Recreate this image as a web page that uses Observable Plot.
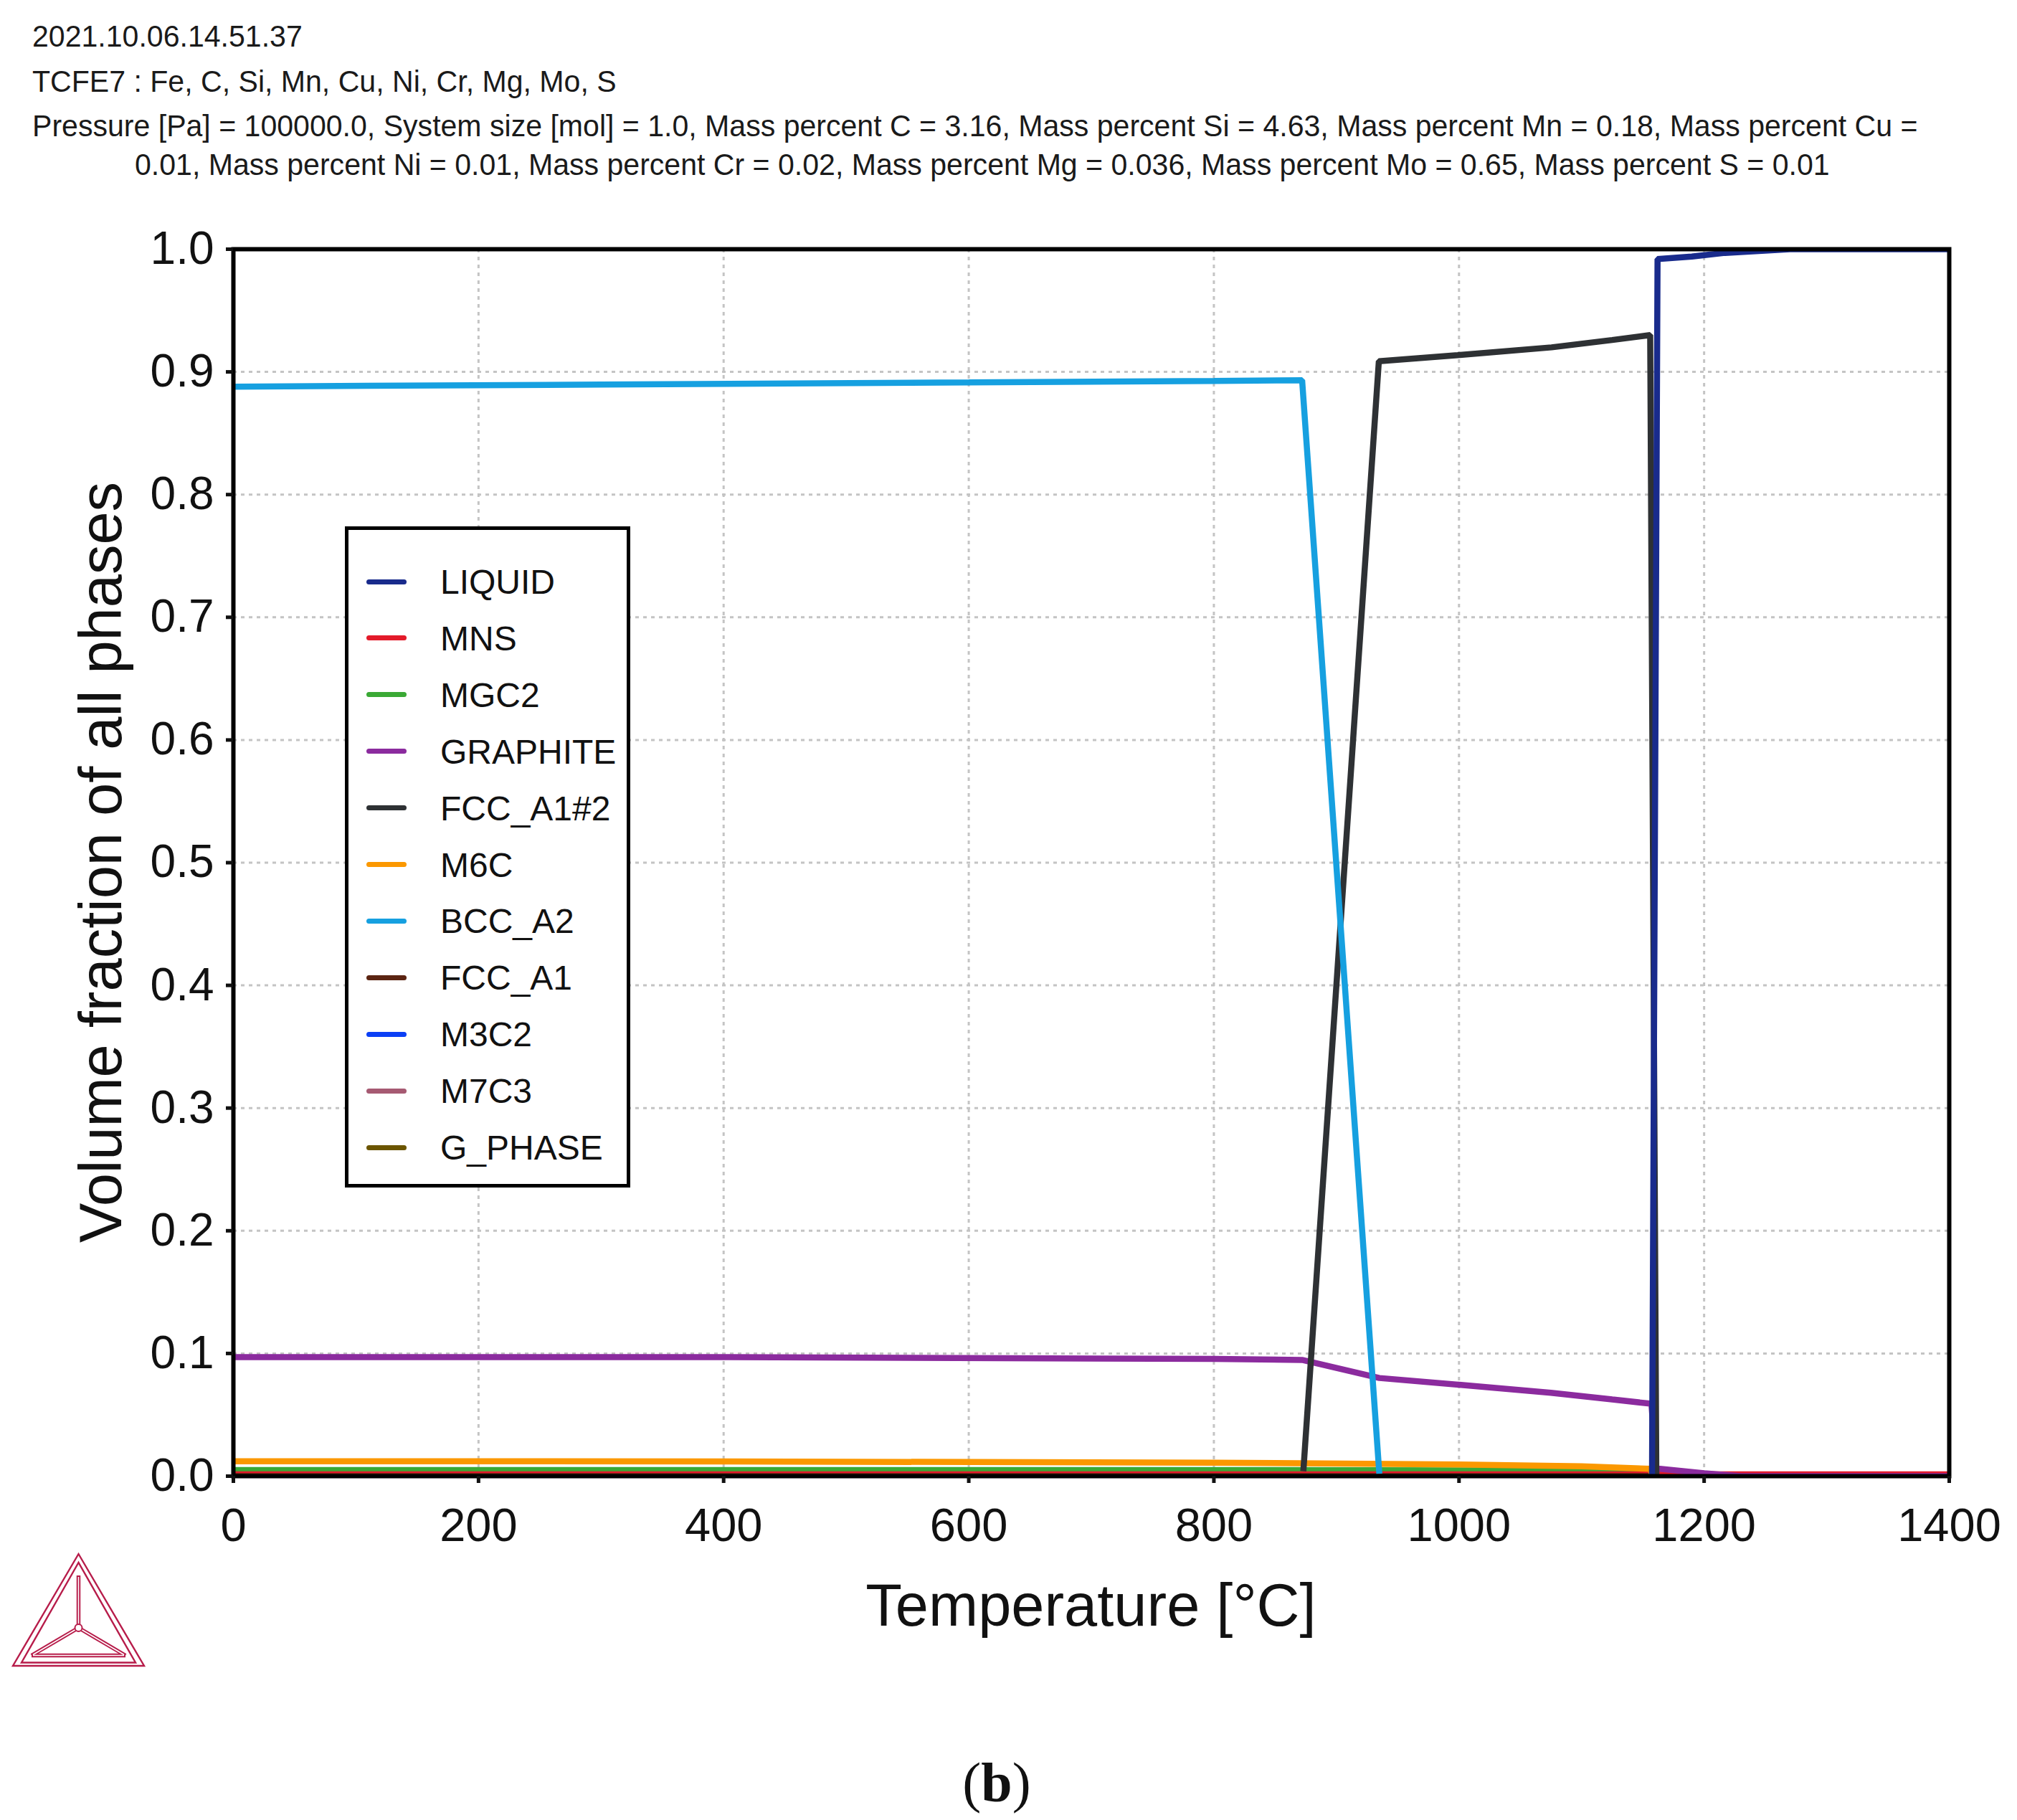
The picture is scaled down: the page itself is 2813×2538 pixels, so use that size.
<!DOCTYPE html>
<html>
<head>
<meta charset="utf-8">
<script src="https://cdn.jsdelivr.net/npm/d3@7"></script>
<script src="https://cdn.jsdelivr.net/npm/@observablehq/plot@0.6"></script>
<style>
  html, body { margin: 0; padding: 0; background: #fff; }
  #page { position: relative; width: 2813px; height: 2538px; overflow: hidden; background: #fff;
          font-family: "Liberation Sans", Arial, sans-serif; color: #1a1a1a; }
  .t { position: absolute; white-space: nowrap; line-height: 1; }
  .hd { font-size: 43px; transform: scaleX(0.955); transform-origin: 0 0; color: #1a1a1a; }
  #chart { position: absolute; left: 0; top: 280px; }
  #legend { position: absolute; left: 481px; top: 734px; width: 388px; height: 912px;
            border: 5px solid #000; background: #fff; }
  .li { position: absolute; left: 0; height: 48px; }
  .sw { position: absolute; left: 25px; width: 56px; height: 7px; border-radius: 4px; }
  .lt { position: absolute; left: 128px; font-size: 48px; line-height: 1; color: #111; white-space: nowrap; }
</style>
</head>
<body>
<div id="page">
  <div class="t hd" style="left:45px; top:28.6px;">2021.10.06.14.51.37</div>
  <div class="t hd" style="left:45px; top:91.6px;">TCFE7 : Fe, C, Si, Mn, Cu, Ni, Cr, Mg, Mo, S</div>
  <div class="t hd" style="left:45px; top:153.6px;">Pressure [Pa] = 100000.0, System size [mol] = 1.0, Mass percent C = 3.16, Mass percent Si = 4.63, Mass percent Mn = 0.18, Mass percent Cu =</div>
  <div class="t hd" style="left:188px; top:207.6px;">0.01, Mass percent Ni = 0.01, Mass percent Cr = 0.02, Mass percent Mg = 0.036, Mass percent Mo = 0.65, Mass percent S = 0.01</div>
  <div id="chart"></div>
  <div id="legend"></div>
  <div class="t" style="left:325px; width:2393px; text-align:center; top:2197px; font-size:83px; color:#111;">Temperature [°C]</div>
  <div class="t" style="left:-715.5px; width:1711px; text-align:center; top:1160.5px; height:83px; font-size:83px; color:#111; transform:rotate(-90deg); transform-origin:855.5px 41.5px;">Volume fraction of all phases</div>
  <div class="t" style="left:1290px; width:200px; text-align:center; top:2447px; font-size:78px; font-family:'Liberation Serif','Times New Roman',serif; color:#111;">(<b>b</b>)</div>
  <svg style="position:absolute; left:0; top:0;" width="2813" height="2538" pointer-events="none">
    <g fill="none" stroke-linejoin="miter">
      <polygon points="109.5,2167 18,2323 201,2323" stroke="#b71c4a" stroke-width="2.4"/>
      <polygon points="109.5,2179 30,2318.5 189,2318.5" stroke="#b71c4a" stroke-width="2.4"/>
      <g stroke="#b71c4a" stroke-width="5.5">
        <polyline points="44,2308.5 175,2308.5"/>
        <polyline points="44,2308.5 109.5,2270"/>
        <polyline points="175,2308.5 109.5,2270"/>
        <polyline points="109.5,2197 109.5,2270"/>
      </g>
      <g stroke="#fff" stroke-width="1.6">
        <polyline points="46,2308.5 173,2308.5"/>
        <polyline points="46,2307.5 109.5,2270"/>
        <polyline points="173,2307.5 109.5,2270"/>
        <polyline points="109.5,2199 109.5,2268"/>
      </g>
      <circle cx="109.5" cy="2270" r="5" stroke="#b71c4a" stroke-width="2" fill="#fff"/>
    </g>
  </svg>
</div>
<script>
// ---- Data ----
const phases = ["LIQUID", "MNS", "MGC2", "GRAPHITE", "FCC_A1#2", "M6C", "BCC_A2", "FCC_A1", "M3C2", "M7C3", "G_PHASE"];
const phaseColors = ["#192b8c", "#e31a2a", "#3aa935", "#8b2b9e", "#2e3134", "#fb9800", "#16a0e0", "#5b2412", "#0b3ff5", "#a65a72", "#6b5500"];
// drawing order (later = on top)
const drawOrder = ["G_PHASE", "M7C3", "M3C2", "MGC2", "MNS", "FCC_A1", "M6C", "GRAPHITE", "FCC_A1#2", "BCC_A2", "LIQUID"];

const xTicks = [0, 200, 400, 600, 800, 1000, 1200, 1400];
const yTicks = [0, 0.1, 0.2, 0.3, 0.4, 0.5, 0.6, 0.7, 0.8, 0.9, 1.0];

// Temperature [°C] and volume fraction per phase
const liquidT   = [1157.5, 1162, 1190, 1217, 1270, 1400];
const liquidV   = [0, 0.992, 0.994, 0.997, 1.0, 1.0];
const mnsT      = [0, 1400];
const mnsV      = [0.0015, 0.0015];
const mgc2T     = [0, 800, 1160, 1200, 1225, 1400];
const mgc2V     = [0.005, 0.005, 0.0045, 0.002, 0, 0];
const graphiteT = [0, 400, 800, 872, 935, 1000, 1075, 1125, 1157, 1161, 1200, 1230, 1400];
const graphiteV = [0.097, 0.097, 0.0955, 0.0947, 0.080, 0.0745, 0.068, 0.0625, 0.059, 0.0063, 0.0024, 0, 0];
const fcc2T     = [873, 934.6, 999, 1075.5, 1125, 1156, 1161];
const fcc2V     = [0.004, 0.9087, 0.9136, 0.920, 0.926, 0.930, 0];
const m6cT      = [0, 400, 800, 1000, 1100, 1156, 1158];
const m6cV      = [0.0122, 0.0120, 0.0110, 0.0095, 0.0080, 0.0060, 0];
const bccT      = [0, 300, 600, 800, 872, 935];
const bccV      = [0.888, 0.8897, 0.8914, 0.8926, 0.8932, 0.002];
const fccT      = [0, 1160];
const fccV      = [0, 0];
const m3c2T     = [0, 1400];
const m3c2V     = [0, 0];
const m7c3T     = [0, 1400];
const m7c3V     = [0, 0];
const gphaseT   = [0, 1400];
const gphaseV   = [0, 0];

const seriesT = {"LIQUID": liquidT, "MNS": mnsT, "MGC2": mgc2T, "GRAPHITE": graphiteT, "FCC_A1#2": fcc2T,
                 "M6C": m6cT, "BCC_A2": bccT, "FCC_A1": fccT, "M3C2": m3c2T, "M7C3": m7c3T, "G_PHASE": gphaseT};
const seriesV = {"LIQUID": liquidV, "MNS": mnsV, "MGC2": mgc2V, "GRAPHITE": graphiteV, "FCC_A1#2": fcc2V,
                 "M6C": m6cV, "BCC_A2": bccV, "FCC_A1": fccV, "M3C2": m3c2V, "M7C3": m7c3V, "G_PHASE": gphaseV};

const rows = [];
for (const p of drawOrder) {
  seriesT[p].forEach((t, i) => rows.push({phase: p, T: t, v: seriesV[p][i]}));
}

const gridStyle = {stroke: "#c4c4c4", strokeOpacity: 1, strokeWidth: 3, strokeDasharray: "5,6"};

const chart = Plot.plot({
  width: 2813,
  height: 1900,
  marginTop: 67,
  marginBottom: 122,
  marginLeft: 325,
  marginRight: 95,
  style: {fontFamily: "'Liberation Sans', Arial, sans-serif", background: "transparent", color: "#111", overflow: "visible"},
  x: {domain: [0, 1400]},
  y: {domain: [0, 1]},
  color: {domain: phases, range: phaseColors},
  marks: [
    Plot.gridX(xTicks, gridStyle),
    Plot.gridY(yTicks, gridStyle),
    Plot.line(rows, {x: "T", y: "v", z: "phase", stroke: "phase", strokeWidth: 8.5,
                     strokeLinejoin: "miter", strokeLinecap: "butt", clip: true}),
    Plot.frame({stroke: "#000", strokeWidth: 6}),
    Plot.axisX(xTicks, {tickSize: 10, tickPadding: 34, fontSize: 65, strokeWidth: 5, label: null,
                        tickFormat: d => String(d)}),
    Plot.axisY(yTicks, {tickSize: 10, tickPadding: 17, fontSize: 64, strokeWidth: 5, label: null,
                        tickFormat: d => d.toFixed(1)})
  ]
});
document.getElementById("chart").appendChild(chart);

// ---- Legend (HTML) ----
const legend = document.getElementById("legend");
phases.forEach((p, i) => {
  const item = document.createElement("div");
  item.className = "li";
  item.style.top = (72 + i * 78.9 - 24) + "px";
  item.style.width = "100%";
  const sw = document.createElement("div");
  sw.className = "sw";
  sw.style.top = "20.5px";
  sw.style.background = phaseColors[i];
  const lt = document.createElement("div");
  lt.className = "lt";
  lt.style.top = "1px";
  lt.textContent = p;
  item.appendChild(sw);
  item.appendChild(lt);
  legend.appendChild(item);
});
</script>
</body>
</html>
